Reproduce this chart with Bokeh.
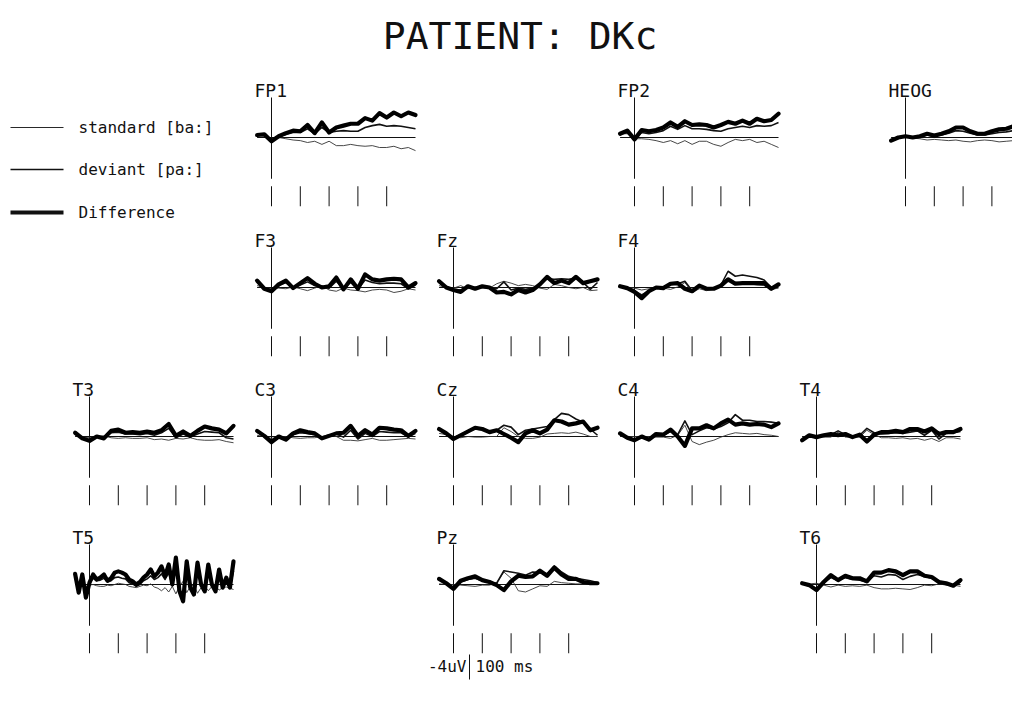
from bokeh.plotting import figure
from bokeh.models import Range1d
from bokeh.core.properties import value
from bokeh.embed import file_html
from bokeh.resources import INLINE

# ---------------- data ----------------
TITLE = "PATIENT:  DKc"
LEGEND_LABELS = ["standard [ba:]", "deviant  [pa:]", "Difference"]
CAL_LABEL_V = "-4uV"
CAL_LABEL_T = "100 ms"
CAL_UV = -4.0
TICK_MS = [0, 100, 200, 300, 400]

# time axis (ms)
T = [-50, -25, 0, 25, 50, 75, 100, 125, 150, 175, 200, 225, 250, 275, 300,
     325, 350, 375, 400, 425, 450, 475, 500]
T_FINE = [-50, -37.5, -25, -12.5, 0, 12.5, 25, 37.5, 50, 62.5, 75, 87.5, 100,
          112.5, 125, 137.5, 150, 162.5, 175, 187.5, 200, 212.5, 225, 237.5,
          250, 262.5, 275, 287.5, 300, 312.5, 325, 337.5, 350, 362.5, 375,
          387.5, 400, 412.5, 425, 437.5, 450, 462.5, 475, 487.5, 500]

# values in microvolts (negative plotted upwards)
FP1_std = [-0.4, -0.5, 0.5, 0, 0.2, 0.4, 0.5, 0.8, 0.6, 1.1, 0.6, 1.3, 1.3, 1.1, 1.3, 1.4, 1.3, 1.6, 1.6, 1.4, 1.8, 1.6, 2.1]
FP1_dev = [-0.4, -0.5, 0.5, -0.2, -0.5, -0.8, -0.8, -1.4, -0.6, -1.6, -0.8, -1.0, -1.1, -1.0, -1.0, -1.6, -1.9, -2.1, -1.8, -1.9, -1.8, -1.6, -1.4]
FP1_dif = [-0.4, -0.5, 0.6, -0.2, -0.7, -1.1, -1.0, -2.0, -0.7, -2.4, -0.8, -1.6, -1.9, -2.2, -2.2, -3.1, -2.7, -3.9, -3.2, -4.0, -3.4, -4.0, -3.6]

FP2_std = [-0.6, -0.6, 0.2, 0.2, 0.3, 0.5, 0.8, 0.5, 1.0, 0.5, 1.1, 0.6, 0.6, 1.1, 1.4, 0.8, 0.3, 0.5, 0.3, 0.8, 0.6, 1.1, 1.6]
FP2_dev = [-0.6, -0.8, 0.2, -0.8, -0.6, -0.8, -1.1, -1.8, -1.3, -1.9, -1.4, -1.4, -1.3, -1.1, -1.0, -1.4, -1.6, -1.8, -1.6, -1.9, -1.8, -1.9, -2.4]
FP2_dif = [-0.6, -1.1, 0.3, -1.2, -1.0, -1.2, -1.6, -2.4, -1.7, -2.6, -2.0, -2.1, -2.0, -1.6, -2.0, -2.5, -2.2, -2.7, -2.2, -3.0, -2.6, -2.8, -3.8]

HEOG_std = [0.3, 0, -0.1, 0.1, 0.2, 0.4, 0.3, 0.4, 0.5, 0.4, 0.6, 0.7, 0.5, 0.4, 0.5, 0.7, 0.6, 0.5, 0.7, 0.8, 0.6, 0.7, 0.8]
HEOG_dev = [0.5, 0, -0.2, 0, -0.1, -0.4, -0.2, -0.4, -0.7, -1.1, -1.0, -0.7, -0.4, -0.4, -0.6, -0.8, -0.9, -1.1, -1.2, -1.3, -1.2, -1.2, -1.1]
HEOG_dif = [0.5, 0, -0.2, 0, -0.2, -0.6, -0.3, -0.6, -1.0, -1.6, -1.6, -1.0, -0.6, -0.6, -1.0, -1.3, -1.4, -1.8, -1.9, -2.1, -1.9, -1.9, -1.8]

F3_std = [-0.3, 0, 0.2, 0.1, 0.2, -0.1, 0.2, 0.5, 0.1, -0.3, 0.4, 0.6, 0.1, 0.4, 0.5, 0.7, 0.4, 0.3, 0.4, 0.8, 0.6, 0.2, 0.4]
F3_dev = [-0.9, 0.2, 0.5, -0.3, -0.8, 0.1, -0.4, -0.9, -0.3, -0.2, 0.1, -1.0, 0.2, -0.8, 0.3, -1.2, -0.8, -0.6, -0.7, -0.7, -0.6, 0.2, -0.4]
F3_dif = [-1.1, 0.2, 0.6, -0.5, -1.1, 0.1, -0.7, -1.5, -0.6, 0, -0.2, -1.6, 0.3, -1.3, 0.2, -2.1, -1.3, -1.1, -1.3, -1.4, -1.3, 0, -0.7]

Fz_std = [-0.3, 0, 0.1, -0.3, 0.2, -0.1, 0.1, 0.1, -0.6, -1.0, -0.7, -0.3, -0.5, -0.3, 0.1, 0.3, -0.5, -0.3, 0, 0.2, 0, 0.5, 0.4]
Fz_dev = [-0.8, 0, 0.3, 0.4, -0.1, 0.1, -0.1, 0.1, 0.2, -0.9, 0.4, 0.1, 0.3, 0.1, -0.4, -1.4, -1.3, -1.4, -1.3, -1.5, -0.8, 0.3, -0.8]
Fz_dif = [-1.0, 0, 0.4, 0.7, -0.2, 0.2, -0.2, 0, 0.8, 0.7, 1.1, 0.4, 0.8, 0.4, -0.5, -1.7, -0.7, -1.1, -0.7, -1.7, -0.7, -1.0, -1.3]

F4_std = [0, 0, 0.1, 0.4, 0.2, 0.1, 0.1, 0.3, -0.1, -0.8, 0.8, 0.2, 0.5, 0.3, -0.1, -1.3, -0.9, -0.8, -0.6, -0.4, -0.3, 0.3, 0.1]
F4_dev = [-0.2, 0.1, 0.5, 1.2, 0.5, 0.1, 0, -0.5, -0.6, -1.0, 0.5, -0.4, 0.1, 0.2, -0.4, -2.6, -1.8, -2.0, -1.8, -1.6, -1.2, 0, -0.5]
F4_dif = [-0.2, 0.1, 0.7, 1.7, 0.6, 0, 0.1, -0.6, -0.7, 0.2, 0.6, -0.3, 0.2, 0.2, -0.3, -1.3, -0.6, -0.7, -0.7, -0.7, -0.7, 0.2, -0.5]

T3_std = [-0.1, 0.1, 0.2, 0, -0.1, 0.2, 0.3, 0.2, 0.3, 0.3, 0.2, 0.5, 0.4, 0.6, 0.3, 0.4, 0.2, 0.5, 0.6, 0.6, 0.5, 0.8, 1.0]
T3_dev = [-0.5, 0.2, 0.5, 0, 0.2, -0.6, -0.7, -0.4, -0.4, -0.3, -0.5, -0.2, -0.6, -1.3, 0.2, -0.4, 0.1, -0.4, -0.8, -0.7, -0.6, 0.2, 0.4]
T3_dif = [-0.6, 0.3, 0.7, 0, 0.3, -0.9, -1.1, -0.6, -0.7, -0.6, -0.8, -0.6, -1.0, -2.0, -0.1, -0.8, -0.1, -0.9, -1.6, -1.3, -1.1, -0.5, -1.7]

C3_std = [-0.2, 0, 0.3, 0.1, 0, 0.2, 0.3, 0.2, 0.2, 0, -0.3, 0, 0.6, 0.6, 0.7, 0.5, 0.3, 0.6, 0.6, 0.5, 0.4, 0.3, 0.4]
C3_dev = [-0.7, -0.1, 0.7, 0.1, 0.4, -0.3, -0.6, -0.5, -0.3, 0.2, -0.2, -0.4, 0.1, -1.0, 0.4, -0.5, 0, -0.8, -0.7, -0.6, -0.6, 0.1, -0.5]
C3_dif = [-0.9, -0.1, 0.9, 0, 0.5, -0.5, -1.0, -0.7, -0.5, 0.3, -0.1, -0.5, -0.6, -1.7, -0.1, -1.0, -0.3, -1.4, -1.3, -1.1, -1.0, -0.1, -0.9]

Cz_std = [-0.5, -0.3, 0, 0.2, 0, 0.1, 0.1, 0, 0, -1.4, -0.8, 0, 0.3, 0.3, 0.1, -0.4, -0.5, -0.6, -0.5, -0.7, -0.4, 0, 0]
Cz_dev = [-1.2, -0.5, 0.2, -0.3, -0.8, -1.2, -1.1, -0.7, -1.0, -1.8, -1.5, -0.3, -1.0, -1.2, -1.4, -1.6, -2.7, -3.7, -3.5, -2.8, -2.3, -1.2, -0.2]
Cz_dif = [-1.2, -0.5, 0.4, -0.2, -0.8, -1.4, -1.2, -0.7, -1.0, -0.4, 0.2, 0.9, -0.5, -1.0, -0.5, -1.1, -2.6, -2.4, -1.9, -2.1, -2.4, -1.0, -1.4]

C4_std = [0, 0, 0, 0, 0, 0.1, 0.1, 0.3, -0.2, -1.8, 0.8, 1.3, 0.9, 0.6, 0.1, -0.3, -0.6, -0.5, -0.4, -0.5, -0.3, -0.2, 0]
C4_dev = [-0.5, 0.2, 0.5, 0, 0.4, -0.3, -0.2, -0.8, -0.3, -2.5, -0.3, -0.9, -1.4, -1.2, -1.6, -2.2, -3.5, -2.6, -2.6, -2.4, -2.4, -2.3, -2.1]
C4_dif = [-0.5, 0.2, 0.6, 0, 0.5, -0.4, -0.3, -1.1, 0, 1.5, -1.3, -1.3, -1.8, -1.3, -2.1, -2.7, -1.9, -2.1, -1.9, -2.0, -1.9, -1.5, -2.1]

T4_std = [0.1, 0, 0, 0.1, 0.1, -0.7, 0.1, 0.1, 0.1, -1.0, -0.3, 0.2, 0.2, 0.3, 0.2, 0.4, 0.3, 0.6, 0.3, 0.8, 0.2, 0.2, 0.4]
T4_dev = [0.5, -0.2, 0.1, -0.1, -0.3, -0.9, -0.3, 0, -0.2, -1.3, -0.6, -0.4, -0.5, -0.6, -0.5, -0.7, -0.9, -0.2, -1.0, 0.4, -0.5, -0.6, -0.8]
T4_dif = [0.6, -0.2, 0.1, -0.2, -0.4, -0.2, -0.4, 0.1, -0.3, 0.8, -0.3, -0.7, -0.7, -0.9, -0.7, -1.2, -1.2, -0.8, -1.3, -0.4, -0.7, -0.7, -1.2]

T5_std = [-0.3, 0.2, -0.3, 0.4, 0.1, 0, 0.2, 0.3, 0.3, 0.1, 0.2, 0, -0.2, -0.1, 0, 0.3, 0.4, 0.5, 0.3, 0.1, 0.2, -0.1, 0.4, 0.6, 1.0, 0.5, 1.2, 0.3, 1.5, 0.2, -0.5, 1.3, 0.3, 0.1, 1.4, 0.5, 0.2, 1.0, 0.3, 0.2, 0.9, 0.5, 0.4, 0.6, 0.8]
T5_dev = [-1.0, 0.8, -0.9, 1.2, -0.2, -1.0, -0.6, -0.7, -1.0, -0.4, -0.6, -1.1, -1.2, -1.0, -0.9, -0.3, -0.1, 0.3, 0, -0.6, -0.9, -1.4, -0.8, -1.1, -1.7, -0.8, -1.9, 0.2, -2.6, 0.8, 1.6, -2.2, 0.4, 1.0, -2.0, 0.1, 0.7, -1.8, 0.1, 0.6, -1.3, 0.4, -0.6, 0.6, -2.2]
T5_dif = [-1.7, 1.3, -1.6, 2.1, -0.3, -1.6, -0.8, -1.1, -1.6, -0.6, -1.0, -1.9, -2.1, -1.9, -1.6, -0.8, -0.5, 0, -0.4, -1.1, -1.6, -2.4, -1.3, -1.9, -2.9, -1.3, -3.2, 0, -4.3, 1.1, 2.7, -3.7, 0.5, 1.6, -3.5, 0, 1.1, -3.2, 0, 1.1, -2.4, 0.5, -1.1, 0.5, -3.7]

Pz_std = [-0.1, 0, 0, 0.1, 0.2, 0.3, 0.1, 0.1, -0.3, -2.0, -1.0, 1.0, 1.2, 0.7, 0.2, 0.3, -0.5, -0.3, -0.2, -0.1, -0.1, 0, 0]
Pz_dev = [-0.8, -0.2, 0.5, -0.4, -0.8, -1.0, -0.6, -0.3, -0.2, -2.2, -2.0, -1.8, -1.5, -2.0, -1.9, -1.7, -3.0, -2.0, -1.3, -1.0, -0.8, -0.6, -0.3]
Pz_dif = [-0.9, -0.2, 0.7, -0.6, -1.0, -1.3, -0.7, -0.4, 0.1, 0.9, -0.5, -1.4, -1.2, -1.3, -2.2, -1.4, -2.7, -1.6, -0.9, -0.9, -0.4, -0.2, -0.2]

T6_std = [0, -0.1, -0.2, 0.1, 0.4, 0.1, 0.3, 0.2, 0.3, 0.1, 0.5, 0.7, 0.7, 0.6, 0.7, 0.8, 0.5, 0.1, 0.2, -0.1, 0.1, 0.1, 0.3]
T6_dev = [-0.2, 0, 0.7, -0.3, -1.1, -0.6, -1.1, -0.8, -0.7, -0.4, -1.4, -1.2, -1.6, -1.5, -0.8, -1.3, -1.6, -1.3, -1.0, -0.5, -0.1, 0.3, -0.4]
T6_dif = [-0.2, 0.1, 0.9, -0.4, -1.5, -0.7, -1.4, -1.0, -1.0, -0.5, -1.9, -1.9, -2.3, -2.1, -1.5, -2.1, -2.1, -1.4, -1.2, -0.4, -0.2, 0.2, -0.7]

# ---------------- layout (page pixel positions of each panel's origin) ----------------
COLS = {"c0": 89, "c1": 271, "c2": 453, "c3": 634, "c4": 816, "heog": 905}
ROWS = {"r0": 137, "r1": 287, "r2": 436, "r3": 584}
PANELS = [
    ("FP1", "c1", "r0", T, FP1_std, FP1_dev, FP1_dif),
    ("FP2", "c3", "r0", T, FP2_std, FP2_dev, FP2_dif),
    ("HEOG", "heog", "r0", T, HEOG_std, HEOG_dev, HEOG_dif),
    ("F3", "c1", "r1", T, F3_std, F3_dev, F3_dif),
    ("Fz", "c2", "r1", T, Fz_std, Fz_dev, Fz_dif),
    ("F4", "c3", "r1", T, F4_std, F4_dev, F4_dif),
    ("T3", "c0", "r2", T, T3_std, T3_dev, T3_dif),
    ("C3", "c1", "r2", T, C3_std, C3_dev, C3_dif),
    ("Cz", "c2", "r2", T, Cz_std, Cz_dev, Cz_dif),
    ("C4", "c3", "r2", T, C4_std, C4_dev, C4_dif),
    ("T4", "c4", "r2", T, T4_std, T4_dev, T4_dif),
    ("T5", "c0", "r3", T_FINE, T5_std, T5_dev, T5_dif),
    ("Pz", "c2", "r3", T, Pz_std, Pz_dev, Pz_dif),
    ("T6", "c4", "r3", T, T6_std, T6_dev, T6_dif),
]

PX_PER_MS = 0.288
PX_PER_UV = 6.25
FONT = "DejaVu Sans Mono"
INK = "#111111"

W, H = 1012, 692
p = figure(width=W, height=H, x_range=Range1d(0, W), y_range=Range1d(H, 0),
           output_backend="svg", toolbar_location=None, min_border=0,
           x_axis_type=None, y_axis_type=None)
p.grid.visible = False
p.outline_line_color = None
p.background_fill_color = "white"
p.border_fill_color = "white"


def panel_api(x0, y0):
    return p.subplot(
        x_source=Range1d(-50, 500),
        x_target=Range1d(x0 - 50 * PX_PER_MS, x0 + 500 * PX_PER_MS),
        y_source=Range1d(-10, 10),
        y_target=Range1d(y0 - 10 * PX_PER_UV, y0 + 10 * PX_PER_UV),
    )


for name, ck, rk, tt, s_std, s_dev, s_dif in PANELS:
    x0, y0 = COLS[ck], ROWS[rk]
    sub = panel_api(x0, y0)
    # zero line and stimulus onset line
    sub.segment(x0=[-50], y0=[0], x1=[500], y1=[0], line_color=INK, line_width=1)
    sub.segment(x0=[0], y0=[-6.4], x1=[0], y1=[6.6], line_color=INK, line_width=1)
    # 100 ms ticks
    sub.segment(x0=TICK_MS, y0=[7.8] * len(TICK_MS), x1=TICK_MS, y1=[11.0] * len(TICK_MS),
                line_color=INK, line_width=1)
    # waveforms
    sub.line(tt, s_std, line_color="#333333", line_width=0.9, line_join="round")
    sub.line(tt, s_dev, line_color=INK, line_width=1.6, line_join="round")
    sub.line(tt, s_dif, line_color="black", line_width=4.2, line_join="round", line_cap="round")
    # channel label
    p.text(x=[x0 - 17], y=[y0 - 47], text=[name], text_font=value(FONT),
           text_font_size="18px", text_color=INK, text_baseline="middle")

# legend
LEG_Y = [127, 169, 212]
LEG_W = [0.9, 1.6, 4.2]
for lbl, ly, lw in zip(LEGEND_LABELS, LEG_Y, LEG_W):
    p.segment(x0=[10], y0=[ly], x1=[63], y1=[ly], line_color=INK, line_width=lw)
    p.text(x=[78], y=[ly], text=[lbl], text_font=value(FONT), text_font_size="16px",
           text_color=INK, text_baseline="middle")

# title
p.text(x=[531], y=[35], text=[TITLE], text_font=value(FONT), text_font_size="38px",
       text_color=INK, text_align="center", text_baseline="middle")

# calibration
cal = panel_api(469, 679)
cal.segment(x0=[0], y0=[0], x1=[0], y1=[CAL_UV], line_color=INK, line_width=1)
p.text(x=[466], y=[666], text=[CAL_LABEL_V], text_font=value(FONT), text_font_size="16px",
       text_color=INK, text_align="right", text_baseline="middle")
p.text(x=[475], y=[666], text=[CAL_LABEL_T], text_font=value(FONT), text_font_size="16px",
       text_color=INK, text_align="left", text_baseline="middle")

open("out.html", "w").write(file_html(p, INLINE))
